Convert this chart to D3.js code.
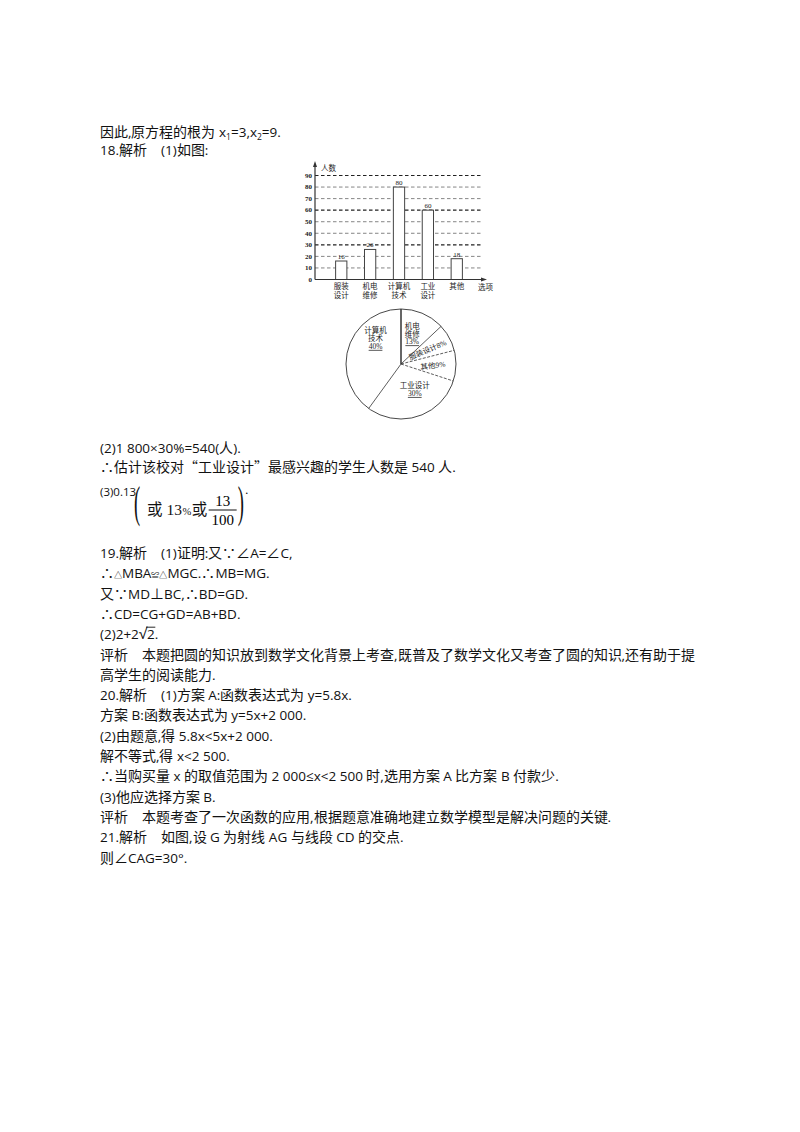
<!DOCTYPE html>
<html>
<head>
<meta charset="utf-8">
<script src="https://cdn.jsdelivr.net/npm/d3@7"></script>
<style>
  @font-face {
    font-family: 'DocCJK';
    src: local('Noto Sans CJK SC'), local('Noto Sans CJK SC Regular'), local('NotoSansCJKsc-Regular');
    size-adjust: 103.7%;
  }
  body { margin: 0; background: #fff; }
  svg text { white-space: pre; }
</style>
</head>
<body>
<div class="vis-container"></div>
<script>
// survey data: interest options and head counts
const CATEGORIES = ['服装设计', '机电维修', '计算机技术', '工业设计', '其他'];
const CATEGORY_LINES = [['服装', '设计'], ['机电', '维修'], ['计算机', '技术'], ['工业', '设计'], ['其他']];
const COUNTS = [16, 26, 80, 60, 18];
const Y_TICKS = [0, 10, 20, 30, 40, 50, 60, 70, 80, 90];
// order of the wedges in the pie, clockwise from 12 o'clock
const PIE_ORDER = ['机电维修', '服装设计', '其他', '工业设计', '计算机技术'];

const TEXT_FONT = "'Open Sans', 'DocCJK', 'Noto Sans CJK SC', sans-serif";
const CJK_FONT = "'DocCJK', 'Noto Sans CJK SC', sans-serif";
const CHART_FONT = "'Liberation Serif', 'Noto Sans CJK SC', serif";

document.addEventListener('DOMContentLoaded', () => {
  const svg = d3.select('.vis-container').append('svg')
    .attr('width', 800)
    .attr('height', 1132);
  svg.append('rect').attr('width', 800).attr('height', 1132).attr('fill', '#fff');
  buildText(svg);
  buildBars(svg);
  buildPie(svg);
});

function buildText(svg) {
  const left = 100;
  const fs = 13.5;
  const line = (y) => svg.append('text')
    .attr('x', left)
    .attr('y', y)
    .attr('font-family', TEXT_FONT)
    .attr('font-size', fs)
    .attr('fill', '#111');

  // first line, with subscripts
  const t1 = line(137);
  t1.append('tspan').text('因此,原方程的根为 x');
  t1.append('tspan').attr('font-size', 8.5).attr('dy', 2.5).text('1');
  t1.append('tspan').attr('dy', -2.5).text('=3,x');
  t1.append('tspan').attr('font-size', 8.5).attr('dy', 2.5).text('2');
  t1.append('tspan').attr('dy', -2.5).text('=9.');
  line(155).text('18.解析    (1)如图:');

  line(453).text('(2)1 800×30%=540(人).');
  const tq = line(472);
  tq.append('tspan').text('∴估计该校对');
  tq.append('tspan').attr('font-family', CJK_FONT).text('“');
  tq.append('tspan').text('工业设计');
  tq.append('tspan').attr('font-family', CJK_FONT).text('”');
  tq.append('tspan').text('最感兴趣的学生人数是 540 人.');

  // (3) with the big bracket and fraction
  line(496).attr('font-size', 11.5).text('(3)0.13');
  const serif = "'Liberation Serif', 'Noto Sans CJK SC', serif";
  const paren = (x, ch) => svg.append('text').attr('x', x).attr('y', 517).attr('font-family', serif)
    .attr('font-size', 44).attr('transform', `translate(${x},517) scale(0.42,1) translate(${-x},-517)`)
    .attr('fill', '#111')
    .text(ch);
  paren(134, '(');
  // chain the inline pieces by their measured widths
  let cur = 147;
  const piece = (txt, size) => {
    const t = svg.append('text').attr('x', cur).attr('y', 515).attr('font-family', serif)
      .attr('font-size', size).attr('fill', '#111').text(txt);
    cur += t.node().getComputedTextLength() + 0.5;
  };
  piece('或 13', 15.5);
  piece('%', 10.5);
  piece('或', 15.5);
  const fx = cur + 15;
  svg.append('text').attr('x', fx).attr('y', 506).attr('font-family', serif)
    .attr('font-size', 15).attr('text-anchor', 'middle').text('13');
  svg.append('line').attr('x1', fx - 14).attr('x2', fx + 14).attr('y1', 510).attr('y2', 510)
    .attr('stroke', '#111').attr('stroke-width', 1);
  svg.append('text').attr('x', fx).attr('y', 525).attr('font-family', serif)
    .attr('font-size', 15).attr('text-anchor', 'middle').text('100');
  paren(fx + 15, ')');
  svg.append('text').attr('x', fx + 22).attr('y', 497).attr('font-family', serif)
    .attr('font-size', 12).text('·');

  const step = 20.3;
  const y0 = 558;
  const rows = [
    '19.解析    (1)证明:又∵∠A=∠C,',
    null,
    '又∵MD⊥BC,∴BD=GD.',
    '∴CD=CG+GD=AB+BD.',
    null,
    '评析    本题把圆的知识放到数学文化背景上考查,既普及了数学文化又考查了圆的知识,还有助于提',
    '高学生的阅读能力.',
    '20.解析    (1)方案 A:函数表达式为 y=5.8x.',
    '方案 B:函数表达式为 y=5x+2 000.',
    '(2)由题意,得 5.8x<5x+2 000.',
    '解不等式,得 x<2 500.',
    '∴当购买量 x 的取值范围为 2 000≤x<2 500 时,选用方案 A 比方案 B 付款少.',
    '(3)他应选择方案 B.',
    '评析    本题考查了一次函数的应用,根据题意准确地建立数学模型是解决问题的关键.',
    '21.解析    如图,设 G 为射线 AG 与线段 CD 的交点.',
    '则∠CAG=30°.'
  ];
  rows.forEach((r, i) => {
    if (r) line(y0 + i * step).text(r);
  });

  // ∴△MBA≌△MGC.∴MB=MG.
  const t2 = line(y0 + step);
  t2.append('tspan').text('∴');
  t2.append('tspan').attr('font-size', 8).text('△');
  t2.append('tspan').text('MBA');
  t2.append('tspan').attr('font-size', 8).text('≌△');
  t2.append('tspan').text('MGC.∴MB=MG.');

  // (2)2+2√2.
  const t5 = line(y0 + 4 * step);
  t5.append('tspan').text('(2)2+2');
  t5.append('tspan').attr('font-size', 15).text('√');
  const w2 = t5.node().getComputedTextLength();
  t5.append('tspan').text('2');
  const w3 = t5.node().getComputedTextLength();
  t5.append('tspan').text('.');
  const yTop = y0 + 4 * step - 12;
  svg.append('line').attr('x1', left + w2 - 1).attr('x2', left + w3 + 0.5)
    .attr('y1', yTop).attr('y2', yTop).attr('stroke', '#111').attr('stroke-width', 0.9);
}

function buildBars(svg) {
  const x = d3.scaleBand().domain(CATEGORIES).range([318, 480]).padding(0.61);
  const y = d3.scaleLinear().domain([0, 90]).range([279.5, 175.5]);
  const g = svg.append('g').attr('font-family', CHART_FONT).attr('fill', '#222');
  const axisColor = '#333';

  // dashed grid
  g.selectAll('.grid').data(Y_TICKS.slice(1))
    .enter().append('line')
      .attr('class', 'grid')
      .attr('x1', 315)
      .attr('x2', 482)
      .attr('y1', d => y(d))
      .attr('y2', d => y(d))
      .attr('stroke', d => d % 30 === 0 ? '#222' : '#666')
      .attr('stroke-width', d => d % 30 === 0 ? 1.1 : 0.8)
      .attr('stroke-dasharray', '3.5,2.5');

  g.selectAll('.ytick').data(Y_TICKS)
    .enter().append('text')
      .attr('class', 'ytick')
      .attr('x', 312)
      .attr('y', d => y(d) + 2.3)
      .attr('text-anchor', 'end')
      .attr('font-size', 7)
      .attr('font-weight', 'bold')
      .text(d => d);

  // bars
  g.selectAll('.bar').data(COUNTS)
    .enter().append('rect')
      .attr('class', 'bar')
      .attr('x', (d, i) => x(CATEGORIES[i]))
      .attr('y', d => y(d))
      .attr('width', x.bandwidth())
      .attr('height', d => y(0) - y(d))
      .attr('fill', '#fff')
      .attr('stroke', '#444')
      .attr('stroke-width', 1);

  g.selectAll('.val').data(COUNTS)
    .enter().append('text')
      .attr('class', 'val')
      .attr('x', (d, i) => x(CATEGORIES[i]) + x.bandwidth() / 2)
      .attr('y', d => y(d) - 2)
      .attr('text-anchor', 'middle')
      .attr('font-size', 7)
      .text(d => d);

  // axes with arrows
  g.append('line').attr('x1', 315).attr('x2', 315).attr('y1', y(0)).attr('y2', 164)
    .attr('stroke', axisColor).attr('stroke-width', 1.2);
  g.append('path').attr('d', 'M315,161 L313,167 L317,167 Z').attr('fill', axisColor);
  g.append('line').attr('x1', 315).attr('x2', 484).attr('y1', y(0)).attr('y2', y(0))
    .attr('stroke', axisColor).attr('stroke-width', 1.2);
  g.append('path').attr('d', `M487,${y(0)} L481,${y(0) - 2} L481,${y(0) + 2} Z`).attr('fill', axisColor);

  g.append('text').attr('x', 321).attr('y', 171).attr('font-size', 7.5).text('人数');
  g.append('text').attr('x', 478).attr('y', 290).attr('font-size', 7.5).text('选项');

  const lab = g.selectAll('.cat').data(CATEGORY_LINES)
    .enter().append('text')
      .attr('class', 'cat')
      .attr('text-anchor', 'middle')
      .attr('font-size', 7.5)
      .attr('y', 289);
  lab.selectAll('tspan').data((d, i) => d.map(s => ({s, i})))
    .enter().append('tspan')
      .attr('x', d => x(CATEGORIES[d.i]) + x.bandwidth() / 2)
      .attr('dy', (d, j) => j ? 9 : 0)
      .text(d => d.s);
}

function buildPie(svg) {
  const cx = 401;
  const cy = 364;
  const r = 55;
  const total = d3.sum(COUNTS);
  const data = PIE_ORDER.map(name => ({name, value: COUNTS[CATEGORIES.indexOf(name)]}));
  const pie = d3.pie().sort(null).value(d => d.value);
  const arcs = pie(data);
  const g = svg.append('g')
    .attr('transform', `translate(${cx}, ${cy})`)
    .attr('font-family', CHART_FONT)
    .attr('fill', '#222');

  const arc = d3.arc().innerRadius(0).outerRadius(r);
  g.selectAll('.slice').data(arcs)
    .enter().append('path')
      .attr('class', 'slice')
      .attr('d', arc)
      .attr('fill', '#fff')
      .attr('stroke', 'none');

  // wedge edges
  g.selectAll('.edge').data(arcs)
    .enter().append('line')
      .attr('class', 'edge')
      .attr('x1', 0)
      .attr('y1', 0)
      .attr('x2', d => r * Math.sin(d.startAngle))
      .attr('y2', d => -r * Math.cos(d.startAngle))
      .attr('stroke', (d, i) => i === 0 ? '#666' : '#333')
      .attr('stroke-width', (d, i) => i === 0 ? 2 : 0.8)
      .attr('stroke-dasharray', (d, i) => (i === 2 || i === 3) ? '3,1.5' : null);

  g.append('circle').attr('r', r).attr('fill', 'none').attr('stroke', '#333').attr('stroke-width', 0.9);

  const pct = d => Math.round(d.value / total * 100) + '%';
  // label layout per wedge: radius, angle shift, rotation, stacked lines
  const layout = {
    '机电维修': {rad: 32, shift: -0.05, rot: 0, lines: ['机电', '维修']},
    '服装设计': {rad: 30, shift: 0.02, rot: -23, lines: null},
    '其他': {rad: 32, shift: 0.02, rot: -7, lines: null},
    '工业设计': {rad: 29, shift: -0.18, rot: 0, lines: ['工业设计']},
    '计算机技术': {rad: 36, shift: 0.47, rot: 0, lines: ['计算机', '技术']}
  };
  arcs.forEach(d => {
    const L = layout[d.data.name];
    const a = (d.startAngle + d.endAngle) / 2 + L.shift;
    const px = L.rad * Math.sin(a);
    const py = -L.rad * Math.cos(a);
    const t = g.append('text')
      .attr('text-anchor', 'middle')
      .attr('font-size', 7.5)
      .attr('transform', `translate(${px}, ${py}) rotate(${L.rot})`);
    if (L.lines) {
      const all = L.lines.concat([pct(d.data)]);
      const top = -(all.length - 1) * 7.8 / 2 + 2.5;
      all.forEach((s, j) => {
        const ts = t.append('tspan').attr('x', 0).attr('y', top + j * 7.8).text(s);
        if (j === all.length - 1) ts.attr('text-decoration', 'underline');
      });
    } else {
      t.attr('y', 2.5).text(d.data.name + pct(d.data));
    }
  });
}
</script>
</body>
</html>
